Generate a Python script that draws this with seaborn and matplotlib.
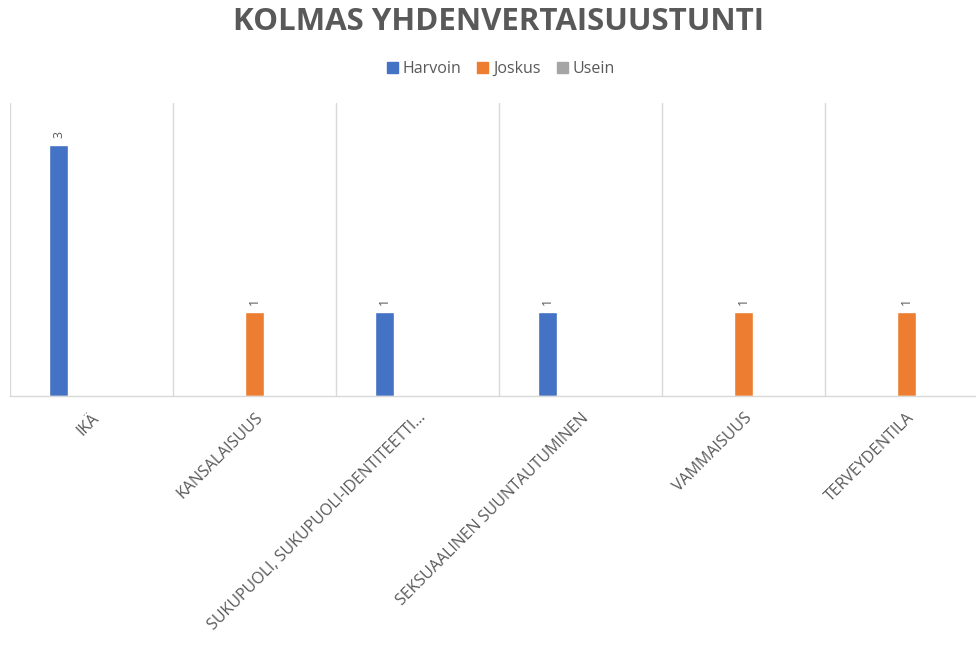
import numpy as np
import pandas as pd
import matplotlib
matplotlib.use("Agg")
import matplotlib.pyplot as plt
import seaborn as sns

# Chart data (blank cells in the source are None)
categories = [
    "IKÄ",
    "KANSALAISUUS",
    "SUKUPUOLI, SUKUPUOLI-IDENTITEETTI…",
    "SEKSUAALINEN SUUNTAUTUMINEN",
    "VAMMAISUUS",
    "TERVEYDENTILA",
]
series_names = ["Harvoin", "Joskus", "Usein"]
harvoin = [3, None, 1, 1, None, None]
joskus = [None, 1, None, None, 1, 1]
usein = [None, None, None, None, None, None]
colors = ["#4472C4", "#ED7D31", "#A5A5A5"]

title = "KOLMAS YHDENVERTAISUUSTUNTI"
text_gray = "#595959"
grid_gray = "#D9D9D9"

# long format for seaborn
rows = []
for name, vals in zip(series_names, [harvoin, joskus, usein]):
    for cat, v in zip(categories, vals):
        rows.append({"category": cat, "series": name, "value": v})
df = pd.DataFrame(rows)
df["value"] = df["value"].astype(float)

sns.set_theme(style="white")
plt.rcParams["font.family"] = ["Open Sans", "DejaVu Sans"]

fig = plt.figure(figsize=(9.76, 6.5), dpi=100)
ax = fig.add_axes([10 / 976, 1 - 396 / 650, 978 / 976, 293 / 650])

sns.barplot(
    data=df,
    x="category",
    y="value",
    hue="series",
    order=categories,
    hue_order=series_names,
    palette=colors,
    width=0.607,
    gap=0.45,
    dodge=True,
    saturation=1,
    ax=ax,
    legend=False,
)

ax.set_ylim(0, 3.5)
ax.set_xlim(-0.5, len(categories) - 0.5)
ax.set_yticks([])
ax.set_xlabel("")
ax.set_ylabel("")

# vertical separators between categories
for i in range(len(categories) + 1):
    ax.axvline(i - 0.5, color=grid_gray, lw=1, zorder=0)

for side in ["top", "right", "left"]:
    ax.spines[side].set_visible(False)
ax.spines["bottom"].set_color(grid_gray)
ax.spines["bottom"].set_linewidth(1)

ax.tick_params(axis="x", length=0, pad=10)
ax.set_xticks(range(len(categories)))
ax.set_xticklabels(categories, rotation=45, ha="right", rotation_mode="anchor",
                   fontsize=11.5, color=text_gray)

# data labels
for p in ax.patches:
    h = p.get_height()
    if np.isfinite(h) and h > 0:
        ax.annotate(
            f"{h:.0f}",
            (p.get_x() + p.get_width() / 2, h),
            xytext=(0, 5),
            textcoords="offset points",
            ha="center",
            va="bottom",
            rotation=90,
            fontsize=9,
            color=text_gray,
        )

# legend
handles = [plt.Rectangle((0, 0), 1, 1, color=c) for c in colors]
fig.legend(
    handles,
    series_names,
    loc="center",
    bbox_to_anchor=(0.513, 1 - 69 / 650),
    ncol=3,
    frameon=False,
    fontsize=11.5,
    handlelength=0.7,
    handleheight=0.7,
    handletextpad=0.3,
    columnspacing=1.0,
    labelcolor=text_gray,
)

fig.text(0.511, 1 - 22 / 650, title, ha="center", va="center",
         fontsize=22.5, fontweight="bold", color=text_gray)

fig.savefig("out.png", dpi=100)
plt.close(fig)
